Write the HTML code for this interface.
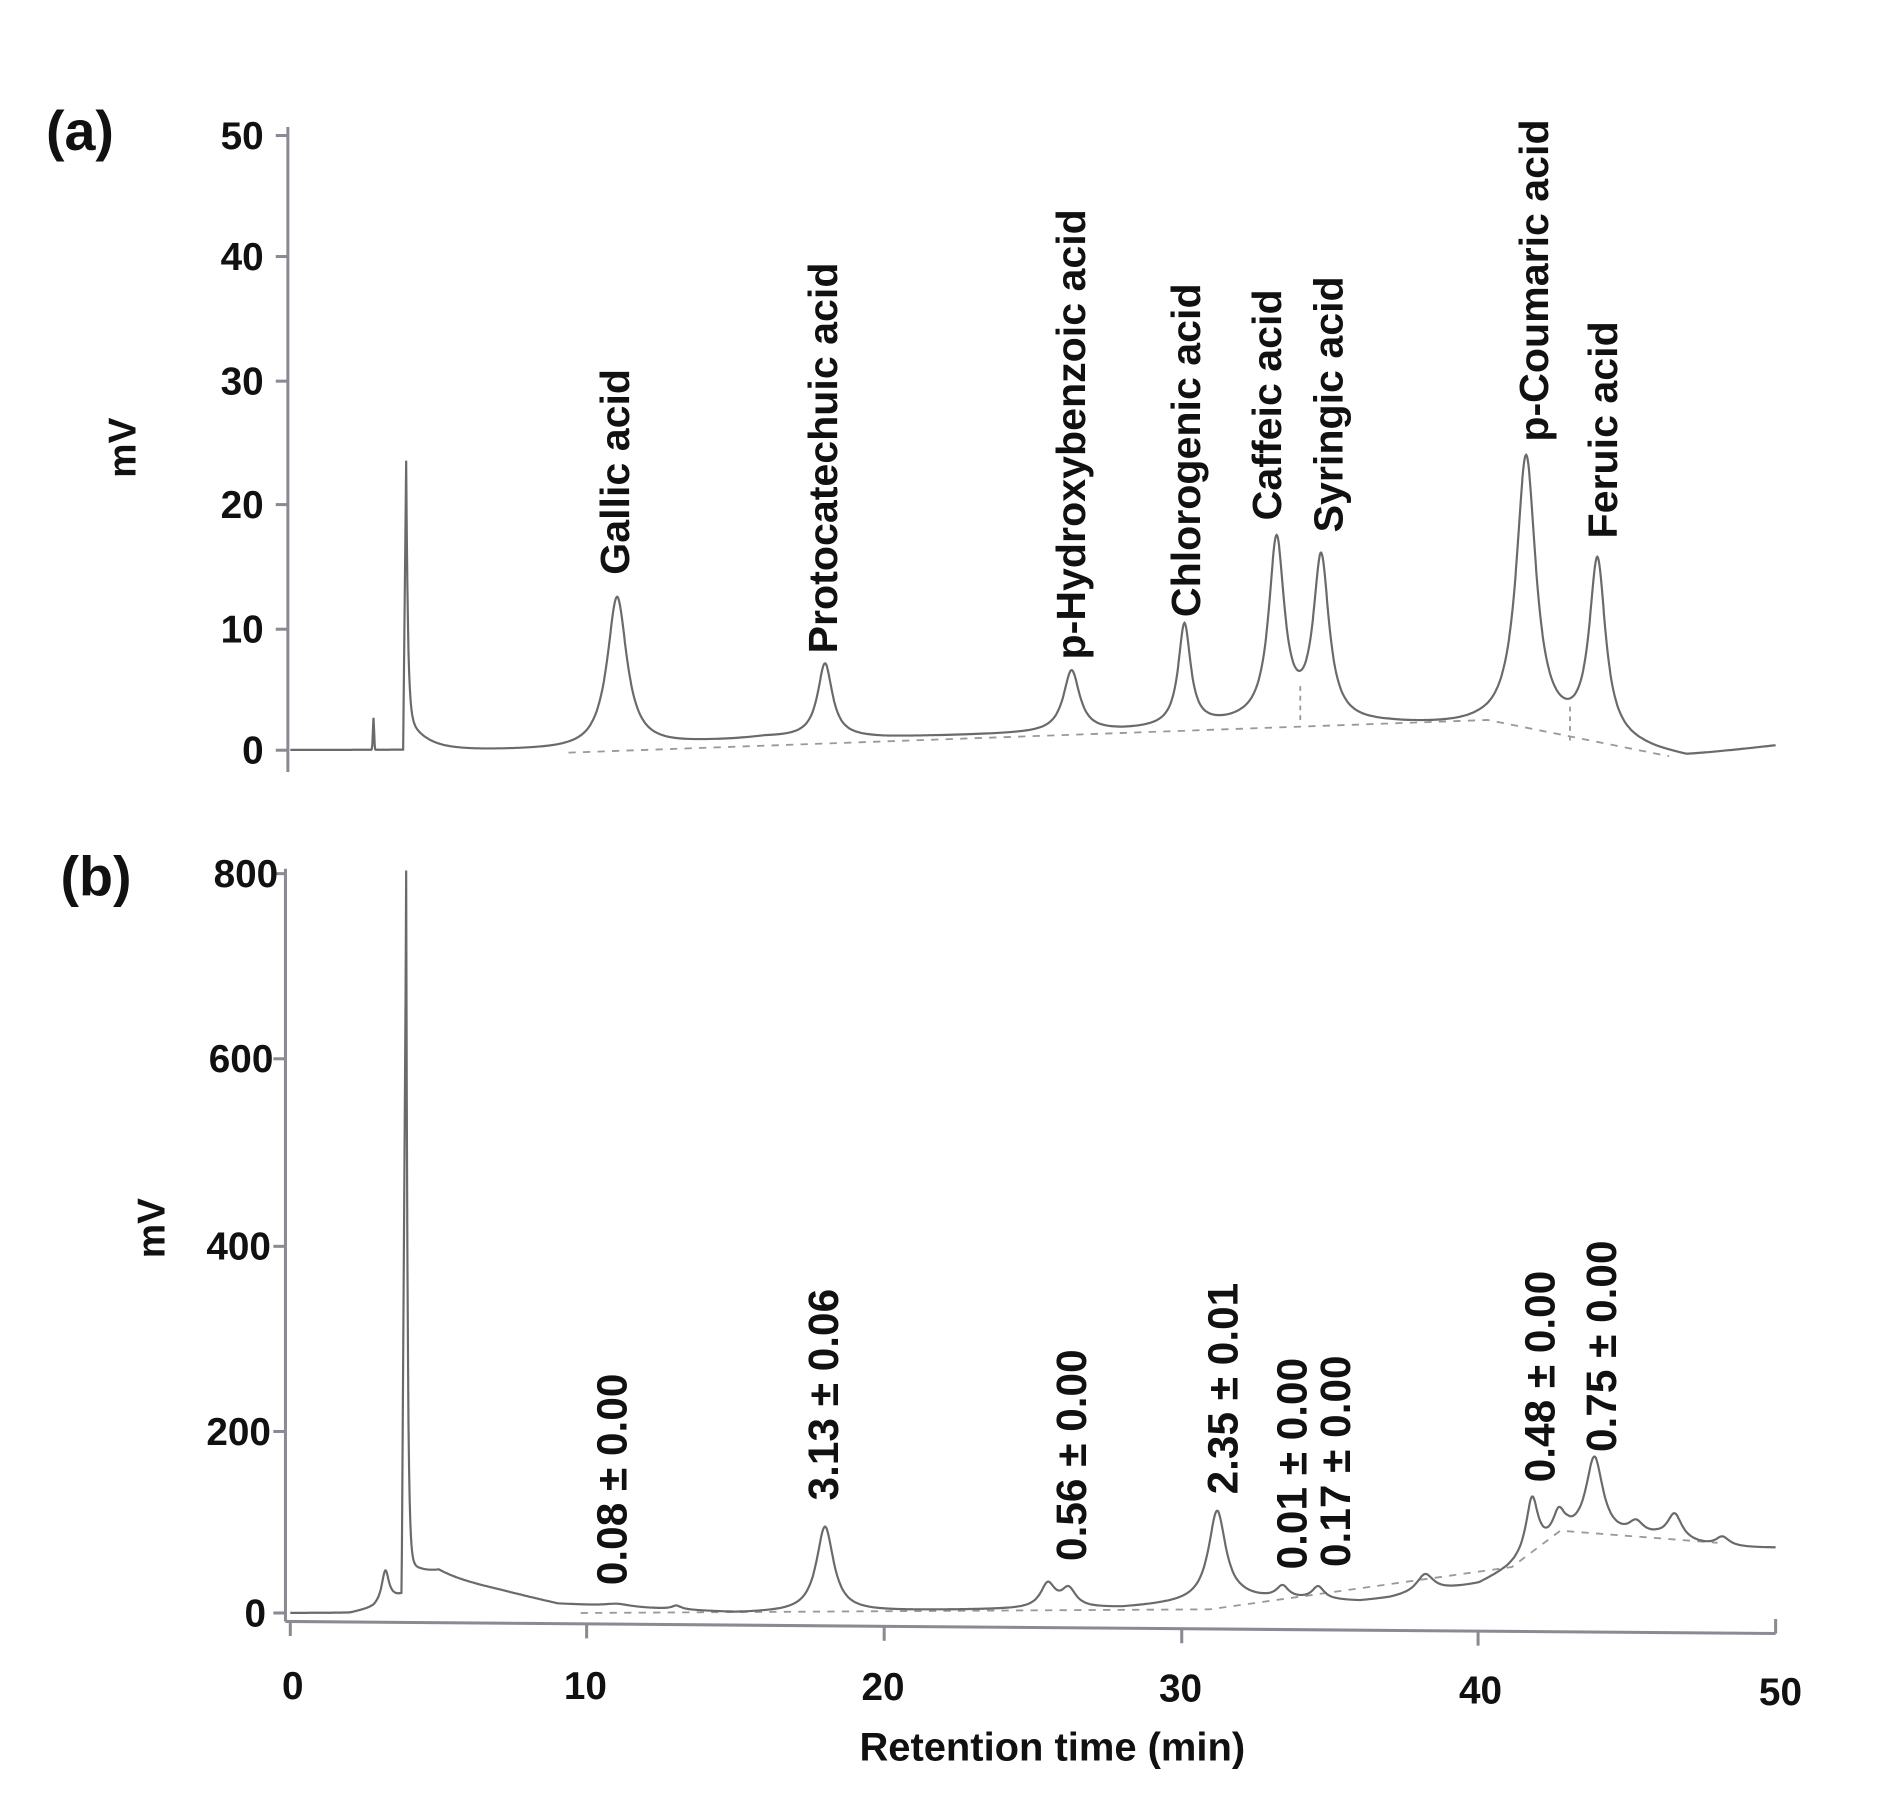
<!DOCTYPE html>
<html><head><meta charset="utf-8"><style>
html,body{margin:0;padding:0;background:#fff;}
svg{display:block;}
text{font-family:"Liberation Sans",Arial,sans-serif;font-weight:bold;fill:#111;}
</style></head><body>
<svg id="s" width="1899" height="1809" viewBox="0 0 1570 1495" preserveAspectRatio="none" xmlns="http://www.w3.org/2000/svg">
<rect width="1570" height="1495" fill="#fff"/>
<g stroke="#8a8a92" stroke-width="2.5" fill="none">
<line x1="238" y1="105" x2="238" y2="638"/>
<line x1="228" y1="112" x2="238" y2="112"/><line x1="228" y1="212" x2="238" y2="212"/>
<line x1="228" y1="315" x2="238" y2="315"/><line x1="228" y1="417" x2="238" y2="417"/>
<line x1="228" y1="520" x2="238" y2="520"/><line x1="228" y1="620" x2="238" y2="620"/>
</g>
<g font-size="32" text-anchor="end">
<text x="218" y="123">50</text><text x="218" y="223">40</text><text x="218" y="326">30</text>
<text x="218" y="428">20</text><text x="218" y="531">10</text><text x="218" y="631">0</text>
</g>
<text x="38" y="124" font-size="46">(a)</text>
<text transform="translate(112,370) rotate(-90)" font-size="32" text-anchor="middle">mV</text>
<g stroke="#8a8a92" stroke-width="2.5" fill="none">
<line x1="236" y1="718" x2="236" y2="1340"/>
<line x1="226" y1="722" x2="236" y2="722"/><line x1="226" y1="875" x2="236" y2="875"/>
<line x1="226" y1="1030" x2="236" y2="1030"/><line x1="226" y1="1183" x2="236" y2="1183"/>
<line x1="226" y1="1333" x2="236" y2="1333"/>
<line x1="236" y1="1340" x2="1468" y2="1350"/>
<line x1="240" y1="1340" x2="240" y2="1352"/><line x1="485" y1="1342" x2="485" y2="1354"/>
<line x1="731" y1="1344" x2="731" y2="1356"/><line x1="977" y1="1346" x2="977" y2="1358"/>
<line x1="1222" y1="1348" x2="1222" y2="1360"/><line x1="1468" y1="1338" x2="1468" y2="1350"/>
</g>
<g font-size="32" text-anchor="end">
<text x="230" y="733">800</text><text x="226" y="886">600</text><text x="224" y="1041">400</text>
<text x="224" y="1194">200</text><text x="220" y="1344">0</text>
</g>
<g font-size="32" text-anchor="middle">
<text x="242" y="1404">0</text><text x="484" y="1404">10</text><text x="730" y="1405">20</text>
<text x="976" y="1406">30</text><text x="1224" y="1408">40</text><text x="1472" y="1409">50</text>
</g>
<text x="870" y="1455" font-size="33" text-anchor="middle">Retention time (min)</text>
<text x="50" y="740" font-size="46">(b)</text>
<text transform="translate(136,1015) rotate(-90)" font-size="32" text-anchor="middle">mV</text>
<g font-size="34">
<text transform="translate(520,475) rotate(-90)">Gallic acid</text>
<text transform="translate(692,540) rotate(-90)">Protocatechuic acid</text>
<text transform="translate(897,545) rotate(-90)">p-Hydroxybenzoic acid</text>
<text transform="translate(992,510) rotate(-90)">Chlorogenic acid</text>
<text transform="translate(1059,430) rotate(-90)">Caffeic acid</text>
<text transform="translate(1110,440) rotate(-90)">Syringic acid</text>
<text transform="translate(1280,365) rotate(-90)">p-Coumaric acid</text>
<text transform="translate(1337,445) rotate(-90)">Feruic acid</text>
</g>
<g font-size="35">
<text transform="translate(518,1310) rotate(-90)">0.08 ± 0.00</text>
<text transform="translate(693,1240) rotate(-90)">3.13 ± 0.06</text>
<text transform="translate(898,1290) rotate(-90)">0.56 ± 0.00</text>
<text transform="translate(1023,1235) rotate(-90)">2.35 ± 0.01</text>
<text transform="translate(1080,1297) rotate(-90)">0.01 ± 0.00</text>
<text transform="translate(1116,1295) rotate(-90)">0.17 ± 0.00</text>
<text transform="translate(1285,1225) rotate(-90)">0.48 ± 0.00</text>
<text transform="translate(1336,1200) rotate(-90)">0.75 ± 0.00</text>
</g>
<g id="curves"></g>
</svg>
<script>
function X(t){return 240+t*24.56;}
function g(t,c,h,s){var d=(t-c)/s;return h*Math.exp(-0.5*d*d);}
function lor(t,c,h,w){var d=(t-c)/w;return h/(1+d*d);}
function interp(t,pts){for(var i=0;i<pts.length-1;i++){if(t>=pts[i][0]&&t<=pts[i+1][0]){var f=(t-pts[i][0])/(pts[i+1][0]-pts[i][0]);return pts[i][1]+f*(pts[i+1][1]-pts[i][1]);}}return pts[pts.length-1][1];}
var baseA=[[0,0],[3.9,0],[10,0],[15,0.8],[16,1],[20,1],[28,1.5],[32,2],[37,2],[40,1.8],[44,0.8],[46,-0.2],[47,-0.6],[48,-0.3],[50,0.3]];
var pkA=[[11,12.3,0.4],[18,6.0,0.3],[26.3,5.0,0.33],[30.1,8.3,0.25],[33.2,14.8,0.32],[34.7,13.3,0.32],[41.6,22.3,0.4],[44,14.3,0.33]];
function A(t){var v=interp(t,baseA);
 if(t>=3.8&&t<3.9)v+=(t-3.8)/0.1*23.5; else if(t>=3.9)v+=20.5*Math.exp(-(t-3.9)/0.06)+3*Math.exp(-(t-3.9)/0.6);
 v+=g(t,2.8,2.6,0.02);
 for(var i=0;i<pkA.length;i++)v+=lor(t,pkA[i][0],pkA[i][1],pkA[i][2]);
 return v;}
var baseB=[[0,0],[2,0],[2.8,5],[5,38],[7,25],[9,10],[12,5],[15,0],[20,2],[28,5],[32,15],[36,12],[37,15],[40,30],[41,45],[43,80],[46,80],[48,70],[50,70]];
var pkB=[[3.2,35,0.15],[11,3,0.5],[13,4,0.2],[18,92,0.35],[25.5,26,0.3],[26.2,20,0.3],[31.2,97,0.35],[33.4,13,0.25],[34.6,14,0.25],[38.2,20,0.35],[41.8,62,0.25],[42.7,28,0.25],[43.9,86,0.35],[45.3,14,0.3],[46.6,28,0.3],[48.2,11,0.3]];
function B(t){var v=interp(t,baseB);
 if(t>=3.75&&t<3.9)v+=(t-3.75)/0.15*745; else if(t>=3.9)v+=745*Math.exp(-(t-3.9)/0.05)+35*Math.exp(-(t-3.9)/0.8);
 for(var i=0;i<pkB.length;i++)v+=lor(t,pkB[i][0],pkB[i][1],pkB[i][2]);
 return v;}
function path(f,y0,k){var d="";for(var t=0;t<=50.001;t+=0.02){d+=(d?"L":"M")+X(t).toFixed(1)+","+(y0-f(t)*k).toFixed(1);}return d;}
var ns="http://www.w3.org/2000/svg",G=document.getElementById("curves");
function add(d,dash,w,c){var p=document.createElementNS(ns,"path");p.setAttribute("d",d);p.setAttribute("fill","none");p.setAttribute("stroke",c||"#6a6a6a");p.setAttribute("stroke-width",w||1.8);if(dash)p.setAttribute("stroke-dasharray",dash);G.appendChild(p);}
add("M470,622 L1230,595 L1380,625","6,6",1.5,"#999");
add("M1075,595 L1075,565 M1298,612 L1298,583","4,4",1.5,"#999");
add("M480,1333 L1000,1330 L1250,1295 L1290,1265 L1420,1275","6,6",1.5,"#999");
add(path(A,620,10.16));
add(path(B,1333,0.764));
</script>
</body></html>
